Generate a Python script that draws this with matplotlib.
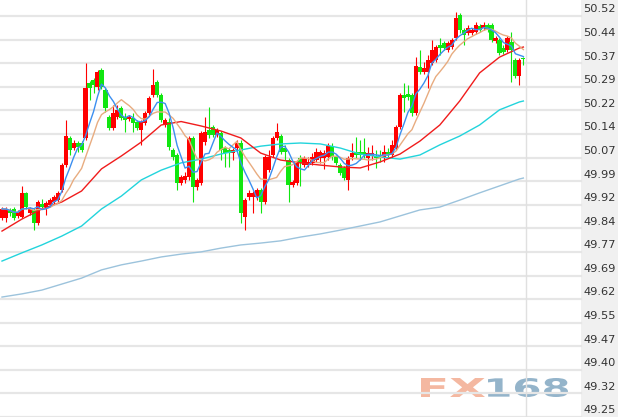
import matplotlib
matplotlib.use("Agg")
import matplotlib.pyplot as plt
import numpy as np
import pandas as pd
from matplotlib.textpath import TextPath
from matplotlib.patches import PathPatch, Rectangle
from matplotlib.font_manager import FontProperties
from matplotlib.transforms import Affine2D

opens = [49.880, 49.880, 49.906, 49.909, 49.887, 49.884, 49.960, 49.896, 49.906, 49.865,
         49.925, 49.915, 49.922, 49.931, 49.937, 49.969, 50.048, 50.134, 50.102, 50.118,
         50.118, 50.134, 50.308, 50.318, 50.295, 50.349, 50.286, 50.200, 50.166, 50.200,
         50.229, 50.200, 50.194, 50.197, 50.186, 50.159, 50.181, 50.213, 50.270, 50.311,
         50.270, 50.175, 50.186, 50.096, 50.080, 49.991, 50.001, 50.010, 50.134, 49.979,
         49.991, 50.121, 50.159, 50.169, 50.143, 50.150, 50.102, 50.096, 50.086, 50.102,
         50.118, 49.884, 49.947, 49.947, 49.947, 49.969, 49.931, 50.032, 50.080, 50.134,
         50.140, 50.102, 50.064, 49.985, 49.991, 50.070, 50.048, 50.048, 50.055, 50.064,
         50.070, 50.070, 50.074, 50.108, 50.074, 50.048, 50.039, 50.001, 50.074, 50.089,
         50.089, 50.089, 50.070, 50.077, 50.077, 50.080, 50.070, 50.089, 50.080, 50.102,
         50.169, 50.270, 50.273, 50.270, 50.213, 50.359, 50.343, 50.343, 50.371, 50.381,
         50.428, 50.435, 50.413, 50.422, 50.451, 50.523, 50.476, 50.466, 50.466, 50.470,
         50.489, 50.482, 50.492, 50.492, 50.441, 50.444, 50.419, 50.413, 50.438, 50.381,
         50.330, 50.387]
closes = [49.909, 49.909, 49.896, 49.880, 49.899, 49.960, 49.915, 49.909, 49.865, 49.931,
          49.915, 49.928, 49.937, 49.947, 49.960, 50.048, 50.140, 50.096, 50.118, 50.105,
          50.096, 50.292, 50.292, 50.302, 50.343, 50.295, 50.229, 50.166, 50.213, 50.223,
          50.197, 50.191, 50.200, 50.181, 50.166, 50.186, 50.213, 50.261, 50.302, 50.270,
          50.191, 50.191, 50.105, 50.074, 49.991, 50.010, 50.013, 50.134, 49.979, 50.001,
          50.150, 50.153, 50.143, 50.143, 50.159, 50.096, 50.086, 50.086, 50.096, 50.118,
          49.896, 49.937, 49.960, 49.960, 49.969, 49.931, 50.074, 50.074, 50.134, 50.153,
          50.089, 50.089, 49.985, 49.994, 50.058, 50.055, 50.070, 50.058, 50.074, 50.089,
          50.089, 50.086, 50.108, 50.074, 50.055, 50.023, 50.007, 50.070, 50.086, 50.080,
          50.080, 50.080, 50.086, 50.086, 50.070, 50.070, 50.089, 50.083, 50.112, 50.169,
          50.270, 50.261, 50.264, 50.213, 50.362, 50.343, 50.356, 50.381, 50.413, 50.422,
          50.419, 50.419, 50.435, 50.444, 50.514, 50.476, 50.460, 50.482, 50.476, 50.492,
          50.476, 50.492, 50.476, 50.444, 50.451, 50.403, 50.406, 50.451, 50.413, 50.330,
          50.381, 50.384]
highs = [49.915, 49.915, 49.912, 49.915, 49.906, 49.982, 49.963, 49.915, 49.912, 49.937,
         49.941, 49.934, 49.944, 49.953, 49.966, 50.055, 50.191, 50.140, 50.128, 50.124,
         50.124, 50.371, 50.314, 50.324, 50.349, 50.356, 50.292, 50.207, 50.238, 50.238,
         50.235, 50.213, 50.207, 50.213, 50.191, 50.191, 50.219, 50.267, 50.352, 50.318,
         50.276, 50.197, 50.197, 50.102, 50.086, 50.017, 50.026, 50.140, 50.140, 50.007,
         50.156, 50.200, 50.232, 50.175, 50.166, 50.156, 50.108, 50.102, 50.102, 50.128,
         50.128, 49.944, 49.969, 49.966, 49.975, 49.975, 50.080, 50.096, 50.140, 50.181,
         50.146, 50.112, 50.070, 50.001, 50.064, 50.080, 50.077, 50.074, 50.086, 50.102,
         50.096, 50.096, 50.118, 50.118, 50.080, 50.055, 50.045, 50.077, 50.118, 50.137,
         50.128, 50.134, 50.105, 50.112, 50.096, 50.096, 50.112, 50.102, 50.128, 50.175,
         50.276, 50.308, 50.302, 50.276, 50.390, 50.413, 50.375, 50.397, 50.444, 50.428,
         50.451, 50.441, 50.441, 50.451, 50.533, 50.530, 50.482, 50.492, 50.482, 50.501,
         50.495, 50.501, 50.498, 50.498, 50.457, 50.451, 50.428, 50.457, 50.470, 50.387,
         50.387, 50.390]
lows = [49.874, 49.868, 49.887, 49.874, 49.880, 49.880, 49.909, 49.890, 49.842, 49.858,
        49.909, 49.890, 49.915, 49.925, 49.931, 49.963, 50.042, 50.080, 50.096, 50.089,
        50.089, 50.128, 50.254, 50.276, 50.286, 50.289, 50.216, 50.159, 50.159, 50.194,
        50.191, 50.153, 50.188, 50.153, 50.159, 50.112, 50.175, 50.207, 50.264, 50.264,
        50.186, 50.169, 50.096, 50.064, 49.969, 49.985, 49.991, 50.001, 49.931, 49.969,
        49.985, 50.112, 50.134, 50.137, 50.137, 50.064, 50.042, 50.042, 50.064, 50.096,
        49.865, 49.842, 49.937, 49.896, 49.937, 49.896, 49.925, 50.026, 50.074, 50.128,
        50.083, 50.064, 49.931, 49.979, 49.985, 49.982, 50.042, 50.042, 50.048, 50.058,
        50.055, 50.036, 50.064, 50.064, 50.048, 50.017, 50.001, 49.969, 50.064, 50.070,
        50.064, 50.070, 50.032, 50.064, 50.039, 50.058, 50.058, 50.070, 50.070, 50.096,
        50.162, 50.216, 50.254, 50.204, 50.207, 50.337, 50.337, 50.292, 50.365, 50.375,
        50.397, 50.413, 50.406, 50.416, 50.444, 50.466, 50.428, 50.460, 50.460, 50.463,
        50.470, 50.476, 50.470, 50.438, 50.435, 50.397, 50.400, 50.406, 50.311, 50.324,
        50.302, 50.365]

# sampled long moving averages (candle index -> value)
ma_idx = [0, 5, 10, 15, 20, 25, 30, 35, 40, 45, 50, 55, 60, 65, 70, 75, 80, 85, 90, 95,
          100, 105, 110, 115, 120, 125, 130, 131]
ma_red = [49.839, 49.877, 49.909, 49.931, 49.966, 50.036, 50.077, 50.121, 50.175, 50.186,
          50.172, 50.156, 50.134, 50.086, 50.064, 50.055, 50.048, 50.042, 50.039, 50.058,
          50.083, 50.124, 50.175, 50.251, 50.340, 50.390, 50.419, 50.422]
ma_cyan = [49.744, 49.770, 49.795, 49.823, 49.855, 49.909, 49.950, 50.001, 50.032, 50.055,
           50.067, 50.083, 50.096, 50.108, 50.115, 50.118, 50.115, 50.102, 50.083, 50.074,
           50.067, 50.080, 50.112, 50.140, 50.175, 50.223, 50.248, 50.251]
ma_light = [49.630, 49.640, 49.652, 49.671, 49.690, 49.716, 49.732, 49.744, 49.757, 49.766,
            49.773, 49.785, 49.795, 49.801, 49.808, 49.820, 49.830, 49.842, 49.855, 49.868,
            49.887, 49.906, 49.915, 49.937, 49.960, 49.982, 50.004, 50.007]

tick_labels = ["50.52", "50.44", "50.37", "50.29", "50.22", "50.14", "50.07", "49.99", "49.92",
               "49.84", "49.77", "49.69", "49.62", "49.55", "49.47", "49.40", "49.32", "49.25"]
tick_top, tick_bottom = 50.52, 49.25

W, H = 618, 417
fig = plt.figure(figsize=(W / 100, H / 100), dpi=100)
fig.patch.set_facecolor("white")
ax = fig.add_axes([0, 0, 1, 1])
ax.set_facecolor("none")
for s in ax.spines.values():
    s.set_visible(False)
ax.set_xticks([])
ax.set_yticks([])

step_px = 3.98
x0 = -2 / step_px
ax.set_xlim(x0, x0 + W / step_px)
ax.set_ylim(49.250, 50.571)

# right label strip
ax.add_patch(Rectangle((581 / W, 0), 1 - 581 / W, 1, transform=ax.transAxes,
                       facecolor="#f0f0f0", edgecolor="none", zorder=0))

tick_vals = np.linspace(tick_top, tick_bottom, len(tick_labels))
for v, lab in zip(tick_vals, tick_labels):
    ax.axhline(v, xmin=0, xmax=581 / W, color="#e6e6e6", lw=1.6, zorder=1)
    ax.annotate(lab, xy=(583 / W, v), xycoords=("axes fraction", "data"),
                xytext=(0, 4.8), textcoords="offset points", va="center", ha="left",
                fontsize=8.2, color="#333333", family="DejaVu Sans", zorder=5)

ax.axvline(x0 + 526 / step_px, color="#e0e0e0", lw=1.0, zorder=1)

# candles
idx = np.arange(len(closes))
o = np.array(opens); c = np.array(closes); h = np.array(highs); l = np.array(lows)
up = c >= o
cols = np.where(up, "#ff0000", "#11e611")
ax.vlines(idx, l, h, colors=cols, lw=0.8, zorder=2)
bottom = np.minimum(o, c)
height = np.maximum(np.abs(c - o), 0.003)
ax.bar(idx, height, bottom=bottom, width=1.05, color=cols, lw=0, zorder=3)

# moving averages
cs = pd.Series(closes)
ma5 = cs.rolling(5, min_periods=1).mean()
ma10 = cs.rolling(10, min_periods=1).mean()
ax.plot(ma_idx, ma_light, color="#9cc3dc", lw=1.0, zorder=4)
ax.plot(ma_idx, ma_cyan, color="#22d4dc", lw=1.0, zorder=4)
ax.plot(ma_idx, ma_red, color="#f01c1c", lw=1.0, zorder=4)
ax.plot(idx, ma10, color="#e8ac80", lw=1.0, zorder=4)
ax.plot(idx, ma5, color="#3c8ff0", lw=1.0, zorder=4)

# watermark
fp = FontProperties(family="DejaVu Sans", weight="bold")
for s, xa, xb, col in [("FX", 421, 485, "#f4b49c"), ("168", 488, 568, "#8eb0c8")]:
    tp = TextPath((0, 0), s, size=100, prop=fp)
    bb = tp.get_extents()
    tr = Affine2D().translate(-bb.x0, -bb.y0).scale((xb - xa) / bb.width, 19 / bb.height).translate(xa, H - 397)
    patch = PathPatch(tp, transform=tr, facecolor=col, edgecolor="none", alpha=0.95, zorder=-1)
    fig.add_artist(patch)

fig.savefig("out.png", dpi=100, facecolor="white")
